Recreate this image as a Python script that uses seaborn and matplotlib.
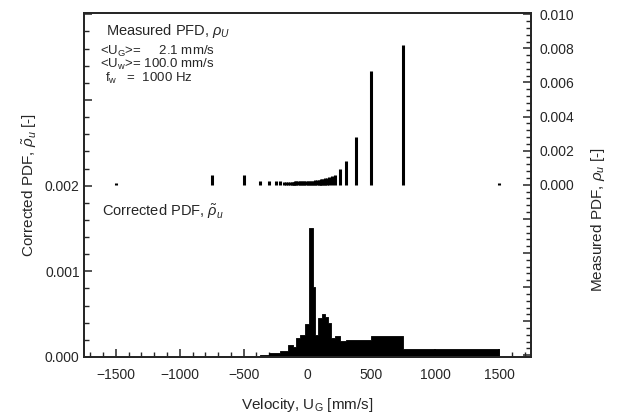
import numpy as np
import pandas as pd
import matplotlib
matplotlib.use("Agg")
import matplotlib.pyplot as plt
import seaborn as sns
from matplotlib.ticker import MultipleLocator, FuncFormatter

# corrected PDF: variable-width bins (mm/s) and their heights [-]
corr_edges = [-1500, -750, -500, -375, -300, -214, -150, -115, -90, -60, -20,
              15, 40, 60, 85, 115, 140, 160, 180, 215, 255, 300, 375, 500, 750, 1500]
corr_pdf = [0.0000035, 0.000008, 0.000014, 0.000023, 0.000047, 0.00007, 0.00014,
            0.00012, 0.00022, 0.00026, 0.00039, 0.0015, 0.00082, 0.00026, 0.00046,
            0.0005, 0.00047, 0.0004, 0.00022, 0.00025, 0.00019, 0.0002, 0.0002,
            0.00025, 0.000088]

# measured PDF: discrete velocities (mm/s) and probabilities [-]
meas_vel = [-1500, -750, -500, -375, -300, -250, -214, -188, -167, -150, -136,
            -125, -115, -107, -100, -88, -75, -62, -50, -38, -25, -12, 0, 12, 25,
            38, 50, 62, 75, 88, 100, 107, 115, 125, 136, 150, 167, 188, 214, 250,
            300, 375, 500, 750, 1500]
meas_pdf = [0.0001, 0.0006, 0.0006, 0.0002, 0.0002, 0.0002, 0.0002, 0.00015,
            0.00015, 0.00015, 0.00015, 0.00015, 0.00018, 0.00018, 0.0002, 0.0002,
            0.0002, 0.0002, 0.0002, 0.0002, 0.0002, 0.0002, 0.0002, 0.00025,
            0.00025, 0.00025, 0.00025, 0.00028, 0.0003, 0.0003, 0.0003, 0.00032,
            0.00035, 0.00035, 0.0004, 0.00042, 0.00045, 0.0005, 0.0006, 0.0009,
            0.0014, 0.0028, 0.0067, 0.0082, 0.0001]

sns.set_style("ticks")
plt.rcParams["font.family"] = ["Liberation Sans", "DejaVu Sans"]
plt.rcParams["mathtext.fontset"] = "custom"
plt.rcParams["mathtext.rm"] = "Liberation Sans"
plt.rcParams["mathtext.it"] = "Liberation Sans:italic"

fig = plt.figure(figsize=(6.17, 4.19), dpi=100)
ax = fig.add_axes([0.136, 0.148, 0.725, 0.822])

mids = [(a + b) / 2 for a, b in zip(corr_edges[:-1], corr_edges[1:])]
corr = pd.DataFrame({"vel": mids, "pdf": corr_pdf})
sns.histplot(data=corr, x="vel", weights="pdf", bins=list(corr_edges), stat="count",
             element="step", fill=True, color="black", alpha=1, linewidth=0.6, ax=ax)
ax.set_xlim(-1750, 1750)
ax.set_ylim(0, 0.00402)
ax.set_ylabel(r"Corrected PDF, $\tilde{\rho}_u$ [-]", fontsize=11)
ax.set_xlabel(r"Velocity, U$_\mathrm{G}$ [mm/s]", fontsize=11, labelpad=10)

ax.xaxis.set_major_locator(MultipleLocator(500))
ax.xaxis.set_minor_locator(MultipleLocator(100))
ax.yaxis.set_major_locator(MultipleLocator(0.001))
ax.yaxis.set_minor_locator(MultipleLocator(0.0002))
ax.yaxis.set_major_formatter(FuncFormatter(lambda v, p: f"{v:.3f}" if v < 0.0025 else ""))
ax.tick_params(which="both", direction="in", top=False, right=False, labelsize=10)
ax.tick_params(which="major", length=6, width=1.1)
ax.tick_params(which="minor", length=3.5, width=1)
ax.tick_params(axis="x", which="major", pad=8)
ax.tick_params(axis="y", which="major", pad=3)

ax2 = ax.twinx()
ax2.vlines(meas_vel, 0, meas_pdf, color="black", linewidth=2.2)
ax2.set_ylim(-0.0101, 0.0101)
ax2.yaxis.set_major_locator(MultipleLocator(0.002))
ax2.yaxis.set_minor_locator(MultipleLocator(0.0004))
ax2.yaxis.set_major_formatter(FuncFormatter(lambda v, p: f"{v:.3f}" if v > -0.0001 else ""))
ax2.tick_params(which="both", direction="in", labelsize=10)
ax2.tick_params(which="major", length=6, width=1.1, pad=6)
ax2.tick_params(which="minor", length=3.5, width=1)
ax2.set_ylabel(r"Measured PDF, $\rho_u$ [-]", fontsize=11)
ax2.yaxis.set_label_coords(1.13, 0.40)

for a in (ax, ax2):
    for s in a.spines.values():
        s.set_linewidth(1.3)
        s.set_visible(True)

ax.text(0.05, 0.936, r"Measured PFD, $\rho_U$", transform=ax.transAxes, fontsize=10.5, va="baseline")
ax.text(0.037, 0.877, r"<U$_\mathrm{G}$>=     2.1 mm/s", transform=ax.transAxes, fontsize=9.5, va="baseline")
ax.text(0.037, 0.840, r"<U$_\mathrm{w}$>= 100.0 mm/s", transform=ax.transAxes, fontsize=9.5, va="baseline")
ax.text(0.047, 0.800, r"f$_\mathrm{w}$   =  1000 Hz", transform=ax.transAxes, fontsize=9.5, va="baseline")
ax.text(0.04, 0.41, r"Corrected PDF, $\tilde{\rho}_u$", transform=ax.transAxes, fontsize=10.5, va="baseline")

fig.savefig("out.png", dpi=100)
